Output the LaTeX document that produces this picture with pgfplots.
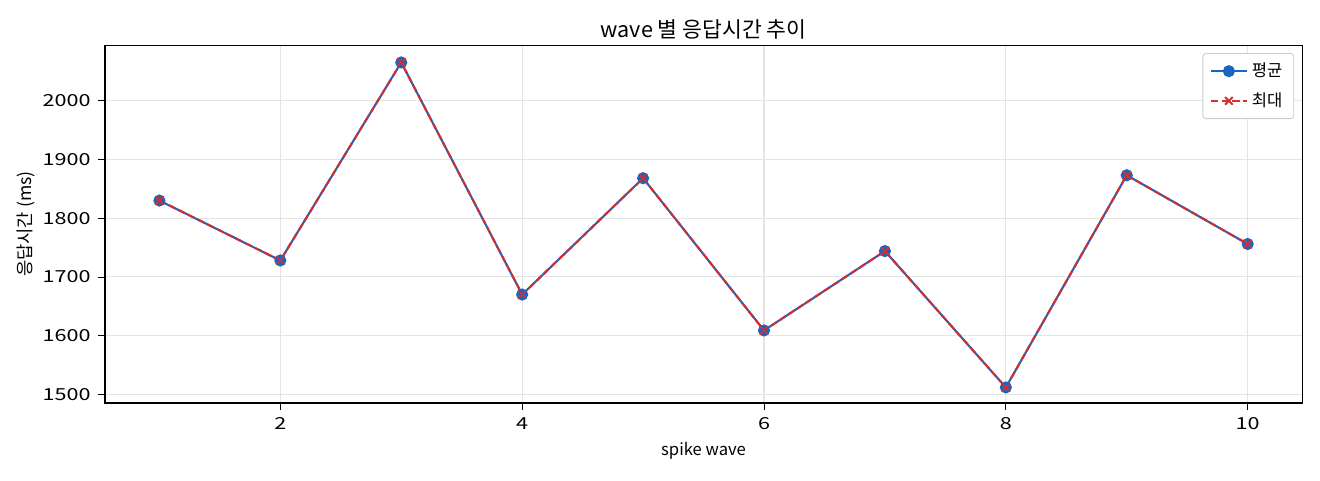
\documentclass[border=0pt]{standalone}
\usepackage{fontspec}
\setmainfont{Noto Sans CJK KR}
\newfontfamily\tickfont[FakeStretch=1.3]{Noto Sans CJK KR}
\usepackage{pgfplots}
\pgfplotsset{compat=1.18}
\definecolor{avgblue}{RGB}{25,101,192}
\definecolor{maxred}{RGB}{211,47,47}
\definecolor{gridgray}{RGB}{229,229,229}

\begin{document}
\begin{tikzpicture}
\useasboundingbox (-50.4bp,-36.96bp) rectangle (583.2bp,193.44bp);
\begin{axis}[
    at={(0,0)}, anchor=south west,
    scale only axis,
    width=574.6bp, height=171.8bp,
    xmin=0.55, xmax=10.45,
    ymin=1485.5, ymax=2094.5,
    xtick={2,4,6,8,10},
    ytick={1500,1600,1700,1800,1900,2000},
    xtick pos=lower, ytick pos=left,
    tick align=outside,
    major tick length=3.4bp,
    every tick/.style={black, line width=0.4pt},
    grid=major,
    major grid style={gridgray, line width=0.5pt},
    axis line style={black, line width=0.5pt},
    /pgf/number format/assume math mode=true,
    /pgf/number format/set thousands separator={},
    tick label style={font=\tickfont\fontsize{8}{9}\selectfont},
    title={wave 별 응답시간 추이},
    every axis title/.style={at={(axis description cs:0.5,1)}, anchor=center, yshift=7.7bp, font=\fontsize{10.4}{12}\selectfont},
    xlabel={spike wave},
    ylabel={응답시간 (ms)},
    every axis x label/.style={at={(axis description cs:0.5,0)}, anchor=center, yshift=-23bp, font=\fontsize{8}{9}\selectfont},
    every axis y label/.style={at={(axis description cs:-0.066,0.5)}, anchor=center, rotate=90, font=\fontsize{8.5}{9}\selectfont},
    legend style={at={(axis description cs:1,1)}, anchor=north east, xshift=-3.8bp, yshift=-3.8bp,
        draw={rgb,255:red,204;green,204;blue,204}, rounded corners=1.5bp,
        font=\fontsize{8}{9}\selectfont, row sep=2.2pt, inner xsep=3.5pt, inner ysep=2.5pt},
    legend cell align=left,
]
\addplot[avgblue, line width=1pt, mark=*, mark size=2.4bp, mark options={solid, fill=avgblue}] coordinates {
    (1,1830) (2,1728) (3,2065) (4,1670) (5,1868)
    (6,1609) (7,1744) (8,1512) (9,1873) (10,1756)
};
\addlegendentry{평균}
\addplot[maxred, line width=1pt, dash pattern=on 3.5bp off 1.6bp, mark=x, mark size=2.6bp, mark options={solid, line width=0.9pt}] coordinates {
    (1,1830) (2,1728) (3,2065) (4,1670) (5,1868)
    (6,1609) (7,1744) (8,1512) (9,1873) (10,1756)
};
\addlegendentry{최대}
\end{axis}
\end{tikzpicture}
\end{document}
